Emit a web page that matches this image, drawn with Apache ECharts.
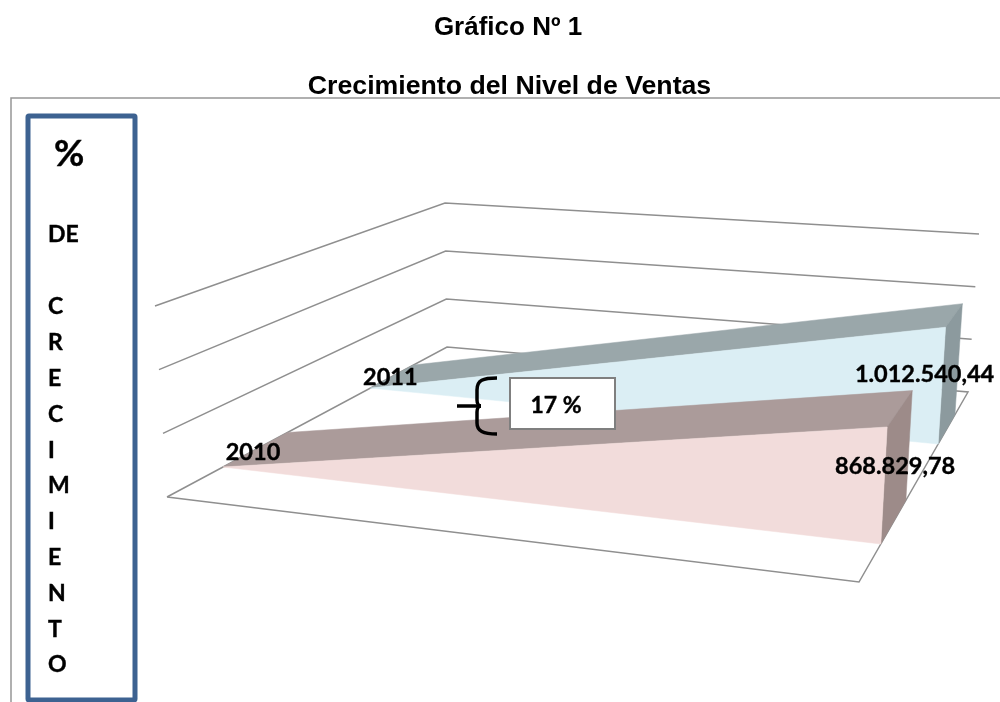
<!DOCTYPE html>
<html>
<head>
<meta charset="utf-8">
<style>
  html, body { margin: 0; padding: 0; background: #fff; }
  #chart { width: 1000px; height: 702px; }
</style>
<script src="https://cdn.jsdelivr.net/npm/echarts@6/dist/echarts.min.js"></script>
</head>
<body>
<div id="chart"></div>
<script>
const periodos = ['inicio', 'fin'];
const anios = ['2010', '2011'];
const ventas2010 = [0, 868829.78];
const ventas2011 = [0, 1012540.44];
const yTicks = [0, 500000, 1000000, 1500000];
const letras = ['C', 'R', 'E', 'C', 'I', 'M', 'I', 'E', 'N', 'T', 'O'];

// the 3D box of the picture: floor and ceiling corners on screen
const suelo = { fl: [167, 497], fr: [859, 582], bl: [447, 347], br: [968, 392] };
const techo = { fl: [155, 306], fr: [870, 369], bl: [445, 203], br: [979, 234] };

const mix = (a, b, k) => [a[0] + (b[0] - a[0]) * k, a[1] + (b[1] - a[1]) * k];

// grid coord -> screen point, d is the depth in the box (0 front, 1 back)
function proyectar(coord, d, cs) {
    const u = (coord[0] - cs.x) / cs.width;
    const w = (cs.y + cs.height - coord[1]) / cs.height;
    const base = mix(mix(suelo.fl, suelo.fr, u), mix(suelo.bl, suelo.br, u), d);
    const alto = mix(mix(techo.fl, techo.fr, u), mix(techo.bl, techo.br, u), d);
    return mix(base, alto, w);
}

function poly(points, fill) {
    return { type: 'polygon', shape: { points: points }, style: { fill: fill, stroke: fill, lineWidth: 0.5 } };
}

function renderParedes(params, api) {
    const cs = params.coordSys;
    const v = api.value(0);
    const p = (i, d) => proyectar(api.coord([i, v]), d, cs);
    const pts = v === 0
        ? [p(0, 0), p(0, 1), p(1, 1), p(1, 0), p(0, 0)]
        : [p(0, 0), p(0, 1), p(1, 1)];
    return {
        type: 'polyline',
        shape: { points: pts },
        style: { stroke: '#8f8f8f', lineWidth: 1.5, fill: 'none' }
    };
}

function serieArea(valores, d0, d1, colores) {
    return {
        type: 'custom',
        coordinateSystem: 'cartesian2d',
        clip: false,
        silent: true,
        data: valores.map((v, i) => [i, v]),
        renderItem: (params, api) => {
            const i = params.dataIndex;
            if (i === 0) return null;
            const cs = params.coordSys;
            const p = (k, v, d) => proyectar(api.coord([k, v]), d, cs);
            const a = valores[i - 1];
            const b = valores[i];
            return {
                type: 'group',
                children: [
                    poly([p(i - 1, a, d0), p(i - 1, a, d1), p(i, b, d1), p(i, b, d0)], colores.top),
                    poly([p(i, b, d0), p(i, b, d1), p(i, 0, d1), p(i, 0, d0)], colores.side),
                    poly([p(i - 1, a, d0), p(i, b, d0), p(i, 0, d0), p(i - 1, 0, d0)], colores.front)
                ]
            };
        }
    };
}

function etiqueta(valores, i, d, dx, dy, texto) {
    return {
        type: 'custom',
        coordinateSystem: 'cartesian2d',
        clip: false,
        silent: true,
        z: 10,
        data: [[i, valores[i]]],
        renderItem: (params, api) => {
            const c = proyectar(api.coord([api.value(0), api.value(1)]), d, params.coordSys);
            return {
                type: 'text',
                x: c[0] + dx,
                y: c[1] + dy,
                style: {
                    text: texto,
                    fill: '#000',
                    stroke: '#000',
                    lineWidth: 0.4,
                    font: 'bold 23.5px Lato',
                    align: 'center',
                    verticalAlign: 'middle'
                }
            };
        }
    };
}

const fmt = v => v.toLocaleString('es-ES', { minimumFractionDigits: 2, maximumFractionDigits: 2 });

const textoLateral = (text, x, y, size) => ({
    type: 'text',
    x: x,
    y: y,
    style: { text: text, fill: '#000', stroke: '#000', lineWidth: 0.4, font: 'bold ' + size + 'px Lato', verticalAlign: 'middle' }
});

const trazoLlave = { fill: 'none', stroke: '#000', lineWidth: 3.5 };
const curva = (x1, y1, cx1, cy1, cx2, cy2, x2, y2) => ({
    type: 'bezierCurve',
    z: 20,
    shape: { x1: x1, y1: y1, cpx1: cx1, cpy1: cy1, cpx2: cx2, cpy2: cy2, x2: x2, y2: y2 },
    style: trazoLlave
});
const recta = (x1, y1, x2, y2) => ({
    type: 'line',
    z: 20,
    shape: { x1: x1, y1: y1, x2: x2, y2: y2 },
    style: trazoLlave
});

const chart = echarts.init(document.getElementById('chart'));

chart.setOption({
    animation: false,
    backgroundColor: '#fff',
    title: [
        {
            text: 'Gráfico Nº 1', left: 503, top: 10, textAlign: 'center',
            textStyle: { fontFamily: 'Liberation Sans', fontWeight: 'bold', fontSize: 26, color: '#000' }
        },
        {
            text: 'Crecimiento del Nivel de Ventas', left: 504.5, top: 68, textAlign: 'center',
            textStyle: { fontFamily: 'Liberation Sans', fontWeight: 'bold', fontSize: 26.7, color: '#000' }
        }
    ],
    grid: { left: 100, right: 100, top: 100, bottom: 100, show: false },
    xAxis: { type: 'category', data: periodos, boundaryGap: false, show: false },
    yAxis: { type: 'value', min: 0, max: 1500000, interval: 500000, show: false },
    series: [
        {
            type: 'custom',
            coordinateSystem: 'cartesian2d',
            clip: false,
            silent: true,
            encode: { y: 0 },
            data: yTicks.map(v => [v]),
            renderItem: renderParedes
        },
        serieArea(ventas2011, 0.726, 0.88, { top: '#9aa7aa', side: '#8c9a9e', front: '#dbeef4' }),
        serieArea(ventas2010, 0.2, 0.43, { top: '#ab9b9a', side: '#9d8b89', front: '#f2dcdb' }),
        etiqueta(ventas2011, 0, 0.726, 20, -11, anios[1]),
        etiqueta(ventas2010, 0, 0.2, 30, -15, anios[0]),
        etiqueta(ventas2011, 1, 0.726, -21, 47, fmt(ventas2011[1])),
        etiqueta(ventas2010, 1, 0.2, 8, 39, fmt(ventas2010[1]))
    ],
    graphic: [
        { type: 'polyline', shape: { points: [[11, 702], [11, 98], [1000, 98]] }, style: { stroke: '#969696', lineWidth: 1.5, fill: 'none' } },
        { type: 'rect', shape: { x: 28, y: 116, width: 107, height: 584, r: 1 }, style: { fill: '#fff', stroke: '#3d6291', lineWidth: 5 } },
        textoLateral('%', 54, 154, 37),
        textoLateral('DE', 48, 235, 23),
        ...letras.map((l, i) => textoLateral(l, 48, 307 + i * 35.8, 23)),
        curva(497, 378, 483, 378, 477, 380, 477, 390),
        recta(477, 390, 477, 400),
        curva(477, 400, 477, 404, 479, 406, 481, 406),
        recta(457, 406, 481, 406),
        curva(481, 406, 479, 406, 477, 408, 477, 412),
        recta(477, 412, 477, 423),
        curva(477, 423, 477, 431, 483, 434, 497, 434),
        { type: 'rect', z: 20, shape: { x: 510, y: 378, width: 105, height: 51 }, style: { fill: '#fff', stroke: '#7f7f7f', lineWidth: 2 } },
        { type: 'text', z: 21, x: 556, y: 406, style: { text: '17 %', fill: '#000', stroke: '#000', lineWidth: 0.4, font: 'bold 23px Lato', align: 'center', verticalAlign: 'middle' } }
    ]
});

window.addEventListener('resize', () => {
    chart.resize();
});
</script>
</body>
</html>
